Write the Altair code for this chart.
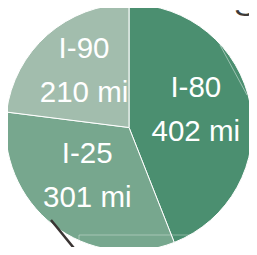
import altair as alt
import pandas as pd

routes = ["I-80", "I-25", "I-90"]
miles = [402, 301, 210]
ranks = [0, 1, 2]
colors = ["#4b8f70", "#77a78e", "#a2bdad"]

df = pd.DataFrame({"route": routes, "miles": miles, "rank": ranks})
df["label"] = df["route"] + "\n" + df["miles"].astype(str) + " mi"

one = pd.DataFrame({"k": [0]})

line_left = alt.Chart(one).mark_rule(color="#3a3433", strokeWidth=2.5).encode(
    x=alt.value(42), y=alt.value(212), x2=alt.value(73), y2=alt.value(250))
faint_diag = alt.Chart(one).mark_rule(color="white", strokeWidth=1, opacity=0.45).encode(
    x=alt.value(211), y=alt.value(37), x2=alt.value(238), y2=alt.value(87))
faint_h = alt.Chart(one).mark_rule(color="white", strokeWidth=1, opacity=0.35).encode(
    x=alt.value(70), y=alt.value(227), x2=alt.value(181), y2=alt.value(227))
faint_v = alt.Chart(one).mark_rule(color="white", strokeWidth=1, opacity=0.35).encode(
    x=alt.value(70), y=alt.value(227), x2=alt.value(70), y2=alt.value(232))
s_text = alt.Chart(one).mark_text(
    text="S", font="Liberation Sans", fontSize=32, color="#3d3a38", baseline="alphabetic", align="center"
).encode(x=alt.value(236), y=alt.value(8))

base = alt.Chart(df).encode(
    theta=alt.Theta("miles:Q", stack=True),
    order=alt.Order("rank:Q"),
)
pie = base.mark_arc(outerRadius=123.5, stroke="white", strokeWidth=1).encode(
    color=alt.Color("route:N", scale=alt.Scale(domain=routes, range=colors), legend=None)
)
labels = base.mark_text(
    radius=68, dy=-27, fontSize=29.5, font="Liberation Sans",
    color="white", lineBreak="\n", lineHeight=44, baseline="middle", align="center"
).encode(text="label:N")

chart = alt.layer(pie, faint_diag, faint_h, faint_v, labels, line_left, s_text).properties(
    width=240, height=239,
    padding={"left": 1, "top": 0, "right": 0, "bottom": 0},
    autosize=alt.AutoSizeParams(type="none"),
).configure_view(stroke=None)

chart.save("out.html", embed_options={"renderer": "svg", "actions": False})
